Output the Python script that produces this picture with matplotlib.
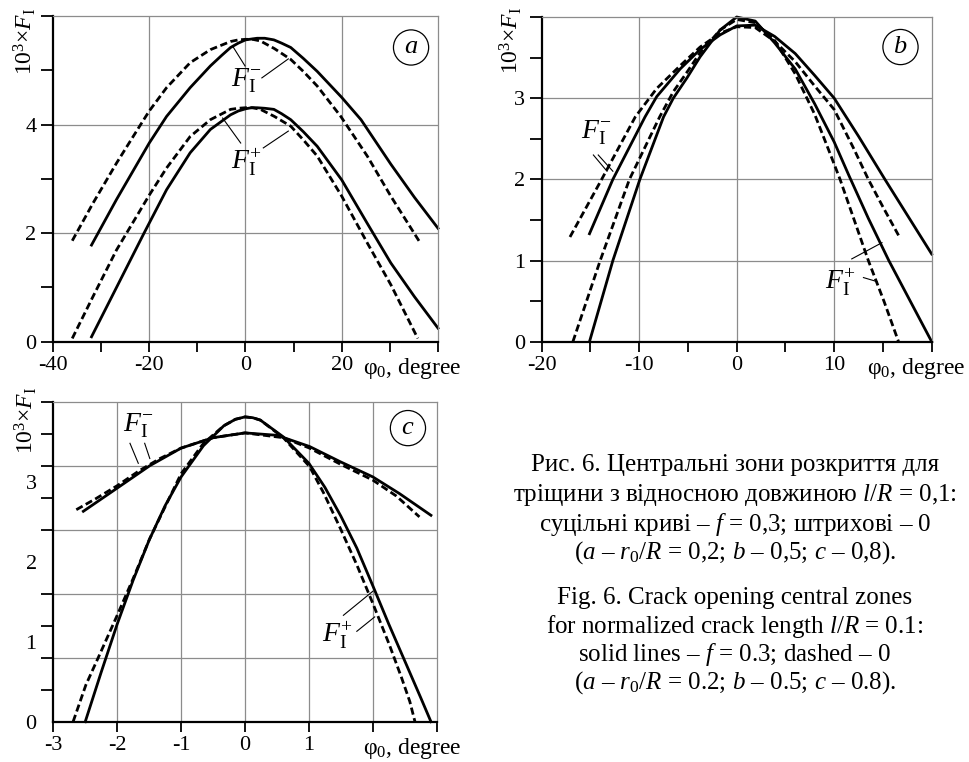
import matplotlib; matplotlib.use("Agg")
import matplotlib.pyplot as plt

plt.rcParams['font.family'] = ['Liberation Serif', 'DejaVu Serif']
plt.rcParams['mathtext.fontset'] = 'custom'
plt.rcParams['mathtext.rm'] = 'Liberation Serif'
plt.rcParams['mathtext.it'] = 'Liberation Serif:italic'
plt.rcParams['mathtext.bf'] = 'Liberation Serif:bold'

# panel a  (r0/R = 0.2)
a_fm_solid_x = [-32, -26.8, -20, -16.4, -11.5, -7.3, -5, -3.1, -1.5, 0, 2.4, 4, 5.9, 7.5, 9.4, 12, 14.9, 20, 24, 30.2, 35.1, 40]
a_fm_solid_y = [1.78, 2.62, 3.66, 4.15, 4.68, 5.08, 5.27, 5.42, 5.5, 5.56, 5.59, 5.59, 5.56, 5.5, 5.42, 5.22, 4.98, 4.5, 4.09, 3.27, 2.66, 2.09]
a_fm_dash_x = [-36, -31.7, -26.8, -22, -20, -16.4, -11.5, -7.3, -3.1, -1.5, 0, 1.5, 3.1, 6, 9.4, 12, 14.9, 19.8, 25.3, 30.2, 36.1]
a_fm_dash_y = [1.86, 2.55, 3.29, 3.97, 4.25, 4.68, 5.14, 5.38, 5.53, 5.56, 5.57, 5.57, 5.54, 5.4, 5.2, 4.98, 4.71, 4.15, 3.42, 2.68, 1.85]
a_fp_solid_x = [-32, -26.8, -21.2, -16.4, -11.5, -7.3, -3.1, -1.5, 0, 1.2, 2.4, 4, 5.9, 7.5, 9.4, 12, 14.9, 20, 25.3, 30.2, 35.1, 40]
a_fp_solid_y = [0.09, 1.0, 1.98, 2.8, 3.48, 3.91, 4.18, 4.25, 4.29, 4.31, 4.31, 4.3, 4.28, 4.2, 4.09, 3.87, 3.6, 2.98, 2.18, 1.45, 0.83, 0.25]
a_fp_dash_x = [-36, -31.7, -26.8, -20, -16.4, -11.5, -7.3, -3.1, -1.5, 0, 1.5, 3.1, 6, 9.4, 12, 14.9, 20, 25.3, 30.2, 35.8]
a_fp_dash_y = [0.06, 0.83, 1.69, 2.7, 3.2, 3.78, 4.09, 4.28, 4.3, 4.31, 4.31, 4.28, 4.15, 3.97, 3.72, 3.42, 2.68, 1.82, 1.05, 0.06]

# panel b  (r0/R = 0.5)
b_fm_solid_x = [-15.1, -12.7, -9.4, -8.2, -5.8, -3.75, -1.7, 0, 1.9, 3.9, 6, 8, 10, 12.5, 15.2, 17.6, 20]
b_fm_solid_y = [1.33, 2.0, 2.77, 3.02, 3.36, 3.6, 3.78, 3.89, 3.9, 3.76, 3.55, 3.28, 3.0, 2.53, 2.0, 1.54, 1.08]
b_fm_dash_x = [-17.1, -13.85, -10.4, -8.2, -5.8, -3.75, -1.7, 0, 1.9, 3.9, 6, 8, 10, 12, 13.5, 15, 16.6]
b_fm_dash_y = [1.29, 2.0, 2.77, 3.12, 3.4, 3.63, 3.8, 3.88, 3.87, 3.7, 3.45, 3.15, 2.86, 2.38, 2.0, 1.66, 1.31]
b_fp_solid_x = [-15.1, -12.7, -9.93, -7.5, -6.5, -5.1, -3.75, -1.7, 0, 1.9, 3.9, 6, 8, 10, 11.5, 13.5, 15.6, 17.8, 20]
b_fp_solid_y = [0.0, 1.0, 2.0, 2.77, 3.0, 3.25, 3.51, 3.84, 4.0, 3.95, 3.68, 3.36, 2.93, 2.46, 2.05, 1.52, 1.0, 0.5, 0.0]
b_fp_dash_x = [-16.8, -14.0, -11.0, -7.9, -6.5, -5.1, -3.75, -1.7, 0, 1.9, 3.9, 6, 8, 9.6, 10.6, 13.5, 15.1, 16.6]
b_fp_dash_y = [0.0, 1.0, 2.0, 2.77, 3.08, 3.32, 3.56, 3.84, 3.97, 3.93, 3.71, 3.3, 2.8, 2.31, 2.0, 1.0, 0.5, 0.0]

# panel c  (r0/R = 0.8)
c_fm_solid_x = [-2.53, -2.0, -1.49, -1.0, -0.5, 0, 0.5, 1.01, 1.49, 2.0, 2.42, 2.91]
c_fm_solid_y = [2.63, 2.92, 3.2, 3.42, 3.55, 3.61, 3.58, 3.44, 3.25, 3.06, 2.85, 2.58]
c_fm_dash_x = [-2.64, -2.33, -2.0, -1.65, -1.33, -1.0, -0.5, 0, 0.6, 1.01, 1.49, 2.0, 2.37, 2.73]
c_fm_dash_y = [2.65, 2.79, 2.95, 3.14, 3.29, 3.42, 3.55, 3.61, 3.55, 3.42, 3.22, 3.02, 2.82, 2.56]
c_fp_solid_x = [-2.5, -2.25, -2.0, -1.75, -1.5, -1.25, -1.0, -0.65, -0.33, -0.15, 0, 0.12, 0.24, 0.6, 1.0, 1.25, 1.5, 1.75, 2.0, 2.25, 2.5, 2.75, 2.91]
c_fp_solid_y = [0.0, 0.62, 1.22, 1.77, 2.27, 2.7, 3.06, 3.45, 3.7, 3.78, 3.81, 3.8, 3.77, 3.56, 3.23, 2.93, 2.57, 2.17, 1.7, 1.22, 0.76, 0.3, 0.0]
c_fp_dash_x = [-2.69, -2.49, -2.28, -2.0, -1.75, -1.49, -1.23, -1.0, -0.65, -0.33, -0.15, 0, 0.12, 0.24, 0.6, 1.01, 1.23, 1.49, 1.75, 2.0, 2.26, 2.45, 2.58, 2.66]
c_fp_dash_y = [0.0, 0.46, 0.83, 1.33, 1.79, 2.29, 2.72, 3.1, 3.48, 3.7, 3.78, 3.81, 3.8, 3.77, 3.55, 3.19, 2.86, 2.42, 1.96, 1.48, 0.96, 0.55, 0.25, 0.0]

caption = ["Рис. 6. Центральні зони розкриття для",
           "тріщини з відносною довжиною $l/R$ = 0,1:",
           "суцільні криві – $f$ = 0,3; штрихові – 0",
           "($a$ – $r_0/R$ = 0,2; $b$ – 0,5; $c$ – 0,8).",
           "Fig. 6. Crack opening central zones",
           "for normalized crack length $l/R$ = 0.1:",
           "solid lines – $f$ = 0.3; dashed – 0",
           "($a$ – $r_0/R$ = 0.2; $b$ – 0.5; $c$ – 0.8)."]

GRID = "#8c8c8c"
LW = 2.0
DASH = (0, (2.6, 1.3))
FS = 16
W, H = 970, 762

fig = plt.figure(figsize=(9.7, 7.62), dpi=100)

def px_axes(l, t, r, b):
    return fig.add_axes([l / W, 1 - b / H, (r - l) / W, (b - t) / H])

def style(ax, xlim, ylim, xmaj, xlab, xmin, ymaj, ylab, ymin, xgrid, ygrid, xl_frac):
    ax.set_xlim(xlim); ax.set_ylim(ylim)
    for v in xgrid:
        ax.axvline(v, color=GRID, lw=0.9, zorder=0)
    for v in ygrid:
        ax.axhline(v, color=GRID, lw=0.9, zorder=0)
    ax.set_xticks(xmaj); ax.set_xticklabels(xlab)
    ax.set_xticks(xmin, minor=True)
    ax.set_yticks(ymaj); ax.set_yticklabels(ylab)
    ax.set_yticks(ymin, minor=True)
    for s in ("top", "right"):
        ax.spines[s].set_color(GRID); ax.spines[s].set_linewidth(0.9)
    for s in ("left", "bottom"):
        ax.spines[s].set_linewidth(1.6)
    ax.tick_params(axis="x", which="both", direction="out", length=7, width=1.3, labelsize=FS, pad=3)
    ax.tick_params(axis="y", which="both", direction="out", length=9, width=1.3, labelsize=FS, pad=3)
    ax.annotate(r"$\mathrm{φ}_0$, degree", xy=(xl_frac, 0), xycoords="axes fraction",
                xytext=(0, -10), textcoords="offset points", ha="left", va="top", fontsize=17)

def curves(ax, fms, fmd, fps, fpd):
    ax.plot(*fms, color="black", lw=LW, clip_on=False)
    ax.plot(*fmd, color="black", lw=LW, ls=DASH, clip_on=False)
    ax.plot(*fps, color="black", lw=LW, clip_on=False)
    ax.plot(*fpd, color="black", lw=LW, ls=DASH, clip_on=False)

def leader(ax, x0, y0, x1, y1):
    ax.plot([x0, x1], [y0, y1], color="black", lw=0.8)

def circ(ax, x, y, s):
    ax.text(x, y, s, ha="center", va="center", fontsize=19,
            bbox=dict(boxstyle="circle,pad=0.25", fc="white", ec="black", lw=0.9))

FM = r"$F_{\mathrm{I}}^{-}$"
FP = r"$F_{\mathrm{I}}^{+}$"
YL = r"10$^3$×$F_{\mathrm{I}}$"
FL = 20

# ---- a
ax = px_axes(53, 16, 438, 341.7)
style(ax, (-40, 40), (0, 6), [-40, -20, 0, 20, 40], ["-40", "-20", "0", "20", ""],
      [-30, -10, 10, 30], [0, 2, 4, 6], ["0", "2", "4", ""], [1, 3, 5],
      [-20, 0, 20], [2, 4], 0.805)
curves(ax, (a_fm_solid_x, a_fm_solid_y), (a_fm_dash_x, a_fm_dash_y),
       (a_fp_solid_x, a_fp_solid_y), (a_fp_dash_x, a_fp_dash_y))
ax.text(0.3, 4.8, FM, ha="center", va="center", fontsize=FL, zorder=5)
ax.text(0.3, 3.3, FP, ha="center", va="center", fontsize=FL, zorder=5)
leader(ax, -2.5, 5.42, -0.1, 5.08); leader(ax, 3.4, 4.86, 8.9, 5.21)
leader(ax, -4.75, 4.12, -1.0, 3.66); leader(ax, 3.7, 3.57, 8.9, 3.88)
circ(ax, 34.4, 5.42, "$a$")
fig.text(25 / W, 1 - 8 / H, YL, rotation=90, ha="center", va="top", fontsize=17)

# ---- b
ax = px_axes(541.7, 17, 931.7, 341.7)
style(ax, (-20, 20), (0, 4), [-20, -10, 0, 10, 20], ["-20", "-10", "0", "10", ""],
      [-15, -5, 5, 15], [0, 1, 2, 3, 4], ["0", "1", "2", "3", ""], [0.5, 1.5, 2.5, 3.5],
      [-10, 0, 10], [1, 2, 3], 0.833)
curves(ax, (b_fm_solid_x, b_fm_solid_y), (b_fm_dash_x, b_fm_dash_y),
       (b_fp_solid_x, b_fp_solid_y), (b_fp_dash_x, b_fp_dash_y))
ax.text(-14.4, 2.58, FM, ha="center", va="center", fontsize=FL, zorder=5)
ax.text(10.6, 0.73, FP, ha="center", va="center", fontsize=FL, zorder=5)
leader(ax, -14.7, 2.3, -13.3, 2.1); leader(ax, -14.2, 2.3, -12.7, 2.1)
leader(ax, 11.8, 1.02, 14.9, 1.22); leader(ax, 13.0, 0.79, 14.4, 0.74)
circ(ax, 16.8, 3.63, "$b$")
fig.text(510.7 / W, 1 - 7 / H, YL, rotation=90, ha="center", va="top", fontsize=17)

# ---- c
ax = px_axes(53.3, 401.7, 436.7, 721.7)
style(ax, (-3, 3), (0, 4), [-3, -2, -1, 0, 1, 2, 3], ["-3", "-2", "-1", "0", "1", "", ""],
      [], [0, 1, 2, 3], ["0", "1", "2", "3"], [0.4 * k for k in range(1, 11)],
      [-2, -1, 0, 1, 2], [0.8, 1.6, 2.4, 3.2], 0.809)
ax.tick_params(axis="y", which="major", length=0, pad=12)
curves(ax, (c_fm_solid_x, c_fm_solid_y), (c_fm_dash_x, c_fm_dash_y),
       (c_fp_solid_x, c_fp_solid_y), (c_fp_dash_x, c_fp_dash_y))
ax.text(-1.67, 3.7, FM, ha="center", va="center", fontsize=FL, zorder=5)
ax.text(1.44, 1.08, FP, ha="center", va="center", fontsize=FL, zorder=5)
leader(ax, -1.8, 3.48, -1.67, 3.23); leader(ax, -1.57, 3.48, -1.49, 3.29)
leader(ax, 1.54, 1.33, 2.0, 1.63); leader(ax, 1.75, 1.13, 2.03, 1.31)
circ(ax, 2.55, 3.67, "$c$")
fig.text(25.7 / W, 1 - 387 / H, YL, rotation=90, ha="center", va="top", fontsize=17)

# ---- caption
cap_y = [465, 495, 525, 553, 598, 627, 655, 683]
for line, yy in zip(caption, cap_y):
    fig.text(735 / W, 1 - yy / H, line, ha="center", va="center", fontsize=18)

fig.savefig("out.png", dpi=100)
